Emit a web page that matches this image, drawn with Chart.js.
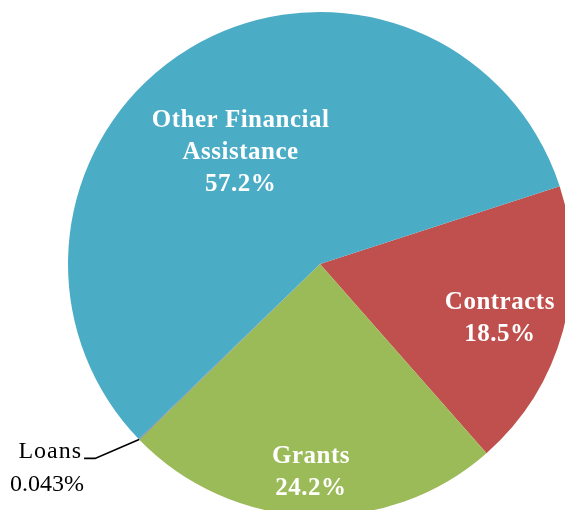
<!DOCTYPE html>
<html>
<head>
<meta charset="utf-8">
<script src="https://cdn.jsdelivr.net/npm/chart.js@4/dist/chart.umd.min.js"></script>
<style>
  html, body { margin: 0; padding: 0; background: #fff; overflow: hidden; }
  #wrap { position: absolute; left: 0; top: 0; width: 640px; height: 528px; }
</style>
</head>
<body>
<div id="wrap"><canvas id="chart" width="640" height="528"></canvas></div>
<script>
// Funding by instrument type, share of total (%)
const categories = ['Contracts', 'Grants', 'Loans', 'Other Financial Assistance'];
const labelLines = [['Contracts'], ['Grants'], ['Loans'], ['Other Financial', 'Assistance']];
const shares = [18.5, 24.2, 0.043, 57.2];
const sliceColors = ['#C0504D', '#9BBB59', '#8064A2', '#4BACC6'];

// Writes the category name and share inside each slice; the tiny slice gets a leader line
const sliceLabels = {
  id: 'sliceLabels',
  afterDatasetsDraw(chart, args, opts) {
    const ctx = chart.ctx;
    const meta = chart.getDatasetMeta(0);
    ctx.save();
    meta.data.forEach((arc, i) => {
      const p = arc.getProps(['x', 'y', 'startAngle', 'endAngle', 'outerRadius'], true);
      const mid = (p.startAngle + p.endAngle) / 2;
      const lines = labelLines[i].concat([shares[i] + '%']);
      const place = opts.placement[i];
      if (place.outside) {
        const ex = p.x + Math.cos(mid) * p.outerRadius;
        const ey = p.y + Math.sin(mid) * p.outerRadius;
        const kx = ex + place.elbow[0], ky = ey + place.elbow[1];
        const tx = kx - place.tail;
        ctx.strokeStyle = '#000';
        ctx.lineWidth = 1.6;
        ctx.beginPath();
        ctx.moveTo(ex, ey);
        ctx.lineTo(kx, ky);
        ctx.lineTo(tx, ky);
        ctx.stroke();
        ctx.fillStyle = '#000';
        ctx.font = opts.outsideFont;
        ctx.textBaseline = 'middle';
        ctx.textAlign = 'right';
        ctx.letterSpacing = '1px';
        ctx.fillText(lines[0], tx - 2, ky - 7);
        ctx.letterSpacing = '0px';
        ctx.textAlign = 'center';
        ctx.fillText(lines[1], tx - 37, ky + 26);
        return;
      }
      const cx = p.x + Math.cos(mid) * p.outerRadius * place.r + place.nudge[0];
      const cy = p.y + Math.sin(mid) * p.outerRadius * place.r + place.nudge[1];
      ctx.fillStyle = '#fff';
      ctx.font = opts.insideFont;
      ctx.letterSpacing = '0.5px';
      ctx.textAlign = 'center';
      ctx.textBaseline = 'middle';
      const lh = opts.lineHeight;
      const top = cy - (lines.length - 1) * lh / 2;
      lines.forEach((t, k) => ctx.fillText(t, cx, top + k * lh));
    });
    ctx.restore();
  }
};

new Chart(document.getElementById('chart'), {
  type: 'pie',
  data: {
    labels: categories,
    datasets: [{
      data: shares,
      backgroundColor: sliceColors,
      borderWidth: 0
    }]
  },
  options: {
    responsive: false,
    animation: false,
    rotation: 72,
    layout: { padding: { left: 68, right: 68, top: 12, bottom: 12 } },
    plugins: {
      legend: { display: false },
      tooltip: { enabled: false },
      sliceLabels: {
        insideFont: 'bold 25px "Liberation Serif", "Times New Roman", serif',
        outsideFont: '24px "Liberation Serif", "Times New Roman", serif',
        lineHeight: 32,
        placement: [
          { r: 0.74, nudge: [0, 5] },
          { r: 0.82, nudge: [-1, 2] },
          { outside: true, elbow: [-44, 19], tail: 11 },
          { r: 0.55, nudge: [-8, 7] }
        ]
      }
    }
  },
  plugins: [sliceLabels]
});
</script>
</body>
</html>
